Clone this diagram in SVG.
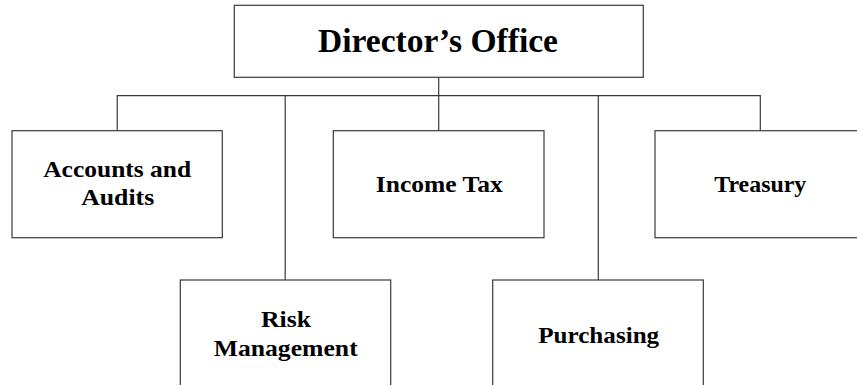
<svg xmlns="http://www.w3.org/2000/svg" width="857" height="385" viewBox="0 0 857 385">
<style>
.box{fill:#fff;stroke:#3a3a3a;stroke-width:1.2}
.ln{fill:none;stroke:#3a3a3a;stroke-width:1.2}
text{font-family:"Liberation Serif","Times New Roman",serif;font-weight:bold;fill:#000;text-anchor:middle}
.s{font-size:23px}
.t{font-size:33px}
</style>
<rect width="857" height="385" fill="#fff"/>
<g id="connectors">
<path class="ln" d="M438.7,77.3V130.7M117.2,130.7V95.7H760.3V130.7M285.2,95.7V280M598.3,95.7V280"/>
</g>
<g id="director">
<rect class="box" x="234.3" y="5.3" width="409" height="72"/>
<text class="t" x="438" y="51.7" textLength="240" lengthAdjust="spacingAndGlyphs">Director’s Office</text>
</g>
<g id="accounts">
<rect class="box" x="12" y="130.7" width="210.3" height="107"/>
<text class="s" x="117.2" y="176.7" textLength="148" lengthAdjust="spacingAndGlyphs">Accounts and</text>
<text class="s" x="117.7" y="205" textLength="73" lengthAdjust="spacingAndGlyphs">Audits</text>
</g>
<g id="income">
<rect class="box" x="333.3" y="130.7" width="210.7" height="107"/>
<text class="s" x="439.3" y="192.3" textLength="127" lengthAdjust="spacingAndGlyphs">Income Tax</text>
</g>
<g id="treasury">
<rect class="box" x="655" y="130.7" width="215" height="107"/>
<text class="s" x="760.3" y="192.3" textLength="92" lengthAdjust="spacingAndGlyphs">Treasury</text>
</g>
<g id="risk">
<rect class="box" x="180.3" y="280" width="210.4" height="120"/>
<text class="s" x="286" y="326.7" textLength="50" lengthAdjust="spacingAndGlyphs">Risk</text>
<text class="s" x="285.7" y="355.7" textLength="144" lengthAdjust="spacingAndGlyphs">Management</text>
</g>
<g id="purchasing">
<rect class="box" x="492.7" y="280" width="210.6" height="120"/>
<text class="s" x="598.7" y="343.3" textLength="121" lengthAdjust="spacingAndGlyphs">Purchasing</text>
</g>
</svg>
